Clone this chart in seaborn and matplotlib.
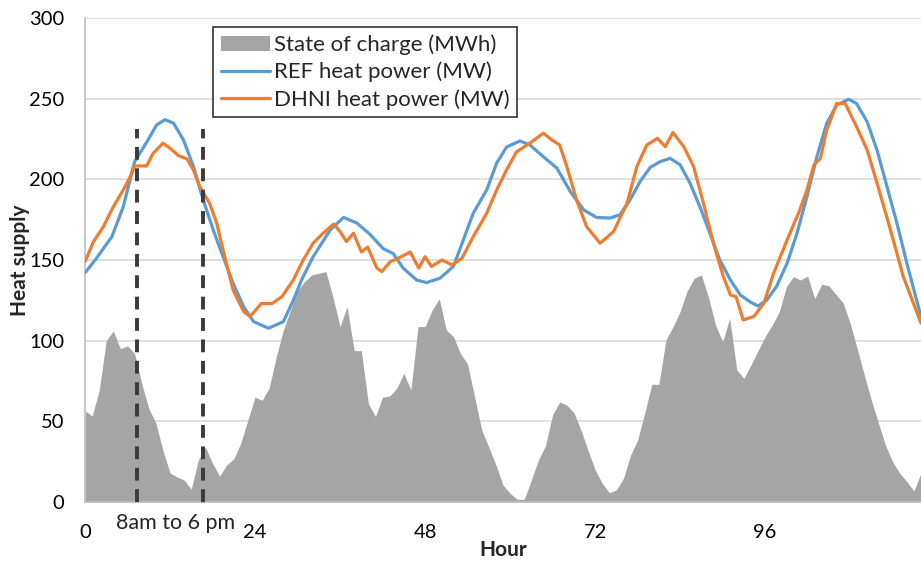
import numpy as np
import pandas as pd
import matplotlib
matplotlib.use("Agg")
import matplotlib.pyplot as plt
import seaborn as sns

# ---------------- data ----------------
soc_hours = list(range(0, 119))
soc_values = [56.6, 53.3, 69, 100, 106, 95, 96.7, 92, 73.6, 58,
              49, 32, 18, 15.5, 13.6, 8, 26, 34, 24, 16,
              23, 26.7, 36.6, 51, 65, 63, 70.7, 90, 106.6, 119,
              131, 136.6, 140.7, 141.8, 142.8, 127, 108.7, 121, 93.8, 93.8,
              61, 53, 65, 65.7, 70.5, 79.8, 69.4, 108.7, 108.7, 119,
              126, 106.6, 102.5, 92, 85.5, 65, 44.6, 34, 23, 10.5,
              5.4, 1.7, 1.7, 13.6, 26, 35, 54, 62, 60, 55.4,
              44.6, 32, 20, 11.6, 5.8, 7.4, 14.7, 29, 38.4, 55,
              73, 73, 100.4, 108.7, 118, 131, 138.7, 140.7, 127, 109.7,
              99.4, 113.9, 81.8, 76.7, 85, 93.8, 102.5, 109.7, 118, 133.5,
              139.7, 137.6, 140, 126, 135, 134, 128.6, 123.5, 110.8, 95,
              78.7, 63, 48.8, 35, 25, 17.8, 12.6, 6.8, 18]

ref_hours = [0, 1.6, 3.8, 5.4, 7, 8.9, 10.1, 11.3, 12.5, 13.9, 15.3, 16.7, 18.1,
             19.5, 20.9, 22.4, 23.8, 25.9, 28, 29.4, 30.6, 32.2, 34.6, 36.5,
             38.4, 40.2, 42.1, 43.5, 44.9, 46.8, 48.2, 50.1, 52, 53.4, 54.8,
             56.7, 58.1, 59.5, 61.4, 62.8, 64.7, 66.6, 68.5, 70.4, 72.2, 74.1,
             75.5, 76.9, 78.4, 79.8, 81.2, 82.6, 84, 85.4, 86.8, 88.2, 89.6,
             91.1, 92.5, 93.9, 95, 96.2, 97.6, 99.1, 100.5, 101.9, 103.3,
             104.7, 106.1, 107.8, 108.9, 110.4, 111.8, 113.2, 114.6, 116, 118]
ref_values = [142, 151, 164.5, 183, 211, 224.4, 233.7, 237, 234.8, 224.4, 208,
              187, 168.6, 152, 135.6, 121, 111.8, 107.7, 111.8, 125, 138, 152,
              168.6, 176.4, 172.8, 166, 157, 154, 145, 137.6, 136, 138.7, 146,
              162.4, 179, 193.4, 210, 220, 223.8, 221.3, 214, 207, 192.4, 181,
              176.4, 176, 178, 187, 199, 207.5, 211, 213, 209, 197.6, 183,
              166.6, 150, 137.6, 128.3, 124, 121.5, 125, 133.5, 148, 166.6,
              189.3, 214, 234.8, 246, 249.6, 247, 235.7, 218, 195.5, 172.8,
              148, 115]

dhni_hours = [0, 1.2, 2.6, 4, 5.4, 6.4, 7, 8.7, 9.6, 11, 12, 13.2, 14.4, 15.3,
              16.2, 17.6, 18.6, 19.5, 20.9, 22.4, 23.3, 24.9, 26.4, 27.8, 29.4,
              30.8, 32.2, 33.6, 35.1, 36, 36.9, 37.9, 39, 39.9, 41.2, 41.9,
              43.1, 44.5, 45.9, 47.1, 48, 48.9, 50.4, 51.8, 53.2, 54.8, 56.7,
              58.1, 59.5, 60.9, 62.8, 64.7, 65.9, 67, 68, 69.4, 70.8, 72.7,
              74.6, 76.5, 77.9, 79.3, 80.8, 81.9, 83, 84.5, 85.9, 87.3, 88.7,
              90.1, 91.1, 91.9, 92.9, 94.4, 95.8, 97.2, 99.1, 100.9, 101.9,
              102.9, 103.8, 104.7, 106.1, 107.3, 108.9, 110.4, 111.8, 113.7,
              115.5, 118]
dhni_values = [149, 161.4, 170.7, 183, 193.4, 201.7, 208.3, 208.3, 216, 222.4,
               219.3, 214.7, 212.6, 205.8, 195.5, 185, 172.8, 156, 131.4, 118,
               115, 123, 123, 127.3, 137.6, 150, 160.4, 166.6, 172.3, 167.6,
               161.4, 166.6, 155, 158, 145, 142.8, 149, 151.7, 155, 145, 152,
               146, 150, 147, 151, 164.5, 179, 193.4, 205.8, 217, 222.4, 228.6,
               224.4, 221.3, 208, 187, 170.7, 160.4, 167.6, 185, 208, 221.3,
               225.4, 220.3, 229, 220.3, 208, 185, 160.4, 139.7, 128.3, 127.3,
               112.8, 115, 123, 141.8, 162.4, 181, 193.4, 209, 213, 230.6, 247,
               247, 232.7, 218.2, 197.6, 168.6, 139.7, 110.8]

window_hours = [7.3, 16.7]
window_top = 231
x_ticks = [0, 24, 48, 72, 96]
y_ticks = [0, 50, 100, 150, 200, 250, 300]

# ---------------- style ----------------
sns.set_theme(style="white")
plt.rcParams['font.family'] = ['Lato', 'DejaVu Sans']

BLUE = "#5B9BD5"
ORANGE = "#ED7D31"
GREY = "#A5A5A5"

fig = plt.figure(figsize=(9.21, 5.66), dpi=100)
ax = fig.add_axes([85 / 921, 64 / 566, 836 / 921, 484 / 566])

ax.fill_between(soc_hours, soc_values, 0, color=GREY, linewidth=0,
                label="State of charge (MWh)", zorder=2)

ref_df = pd.DataFrame({"hour": ref_hours, "value": ref_values})
dhni_df = pd.DataFrame({"hour": dhni_hours, "value": dhni_values})
sns.lineplot(data=ref_df, x="hour", y="value", ax=ax, color=BLUE,
             linewidth=2.3, label="REF heat power (MW)", zorder=3, sort=True)
sns.lineplot(data=dhni_df, x="hour", y="value", ax=ax, color=ORANGE,
             linewidth=2.3, label="DHNI heat power (MW)", zorder=4, sort=True)

for h in window_hours:
    ax.plot([h, h], [0, window_top], color="#3A3A3A", linewidth=2.8,
            linestyle=(0, (3.3, 2.2)), zorder=5)

ax.set_xlim(0, 118)
ax.set_ylim(0, 300)
ax.set_xticks(x_ticks)
ax.set_yticks(y_ticks)
ax.tick_params(axis='both', length=0, labelsize=14.5, colors="#000000")
ax.tick_params(axis='x', pad=16)
ax.tick_params(axis='y', pad=15)
ax.grid(axis='y', color="#D9D9D9", linewidth=1.2, zorder=0)
ax.set_axisbelow(True)
for s in ["top", "right"]:
    ax.spines[s].set_visible(False)
for s in ["left", "bottom"]:
    ax.spines[s].set_color("#BFBFBF")
    ax.spines[s].set_linewidth(1.2)

ax.set_xlabel("Hour", fontsize=15, fontweight="bold", labelpad=-1)
ax.set_ylabel("Heat supply", fontsize=15, fontweight="bold", labelpad=-1)

ax.text(12.8, -13, "8am to 6 pm", fontsize=15.5, ha="center", va="center",
        transform=ax.transData, clip_on=False)

leg = ax.legend(loc="upper left", bbox_to_anchor=(0.153, 0.982), fontsize=16,
                frameon=True, fancybox=False, edgecolor="#000000",
                borderpad=0.35, labelspacing=0.3, handlelength=2.2,
                handletextpad=0.2, borderaxespad=0)
leg.get_frame().set_linewidth(1.2)

fig.savefig("out.png", dpi=100)
